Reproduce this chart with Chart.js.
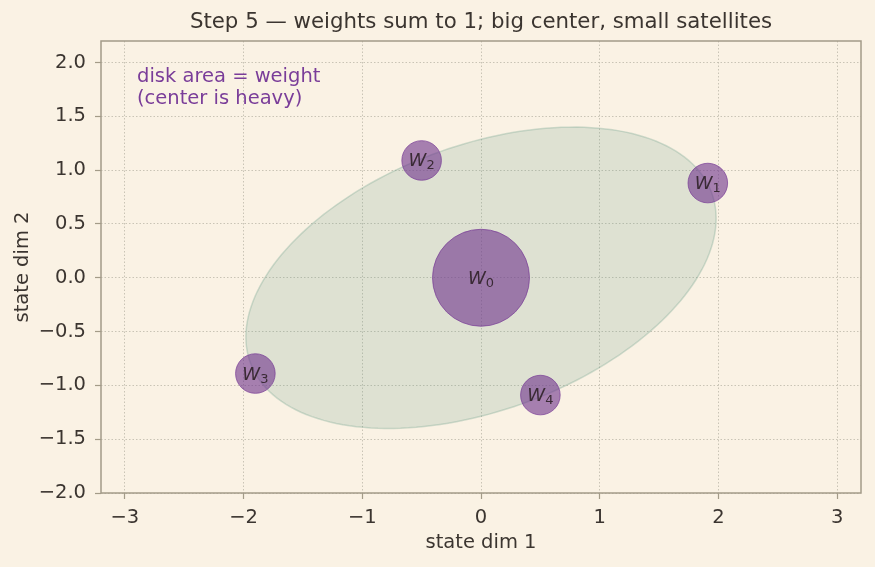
<!DOCTYPE html>
<html>
<head>
<meta charset="utf-8">
<script src="https://cdn.jsdelivr.net/npm/chart.js@4.4.1/dist/chart.umd.min.js"></script>
<style>
  html, body { margin: 0; padding: 0; background: #faf2e4; }
  canvas { display: block; }
</style>
</head>
<body>
<canvas id="myChart" width="875" height="567"></canvas>
<script>
// datos
const labels = ['0', '1', '2', '3', '4'];
const xs = [0.0, 1.91, -0.50, -1.90, 0.50];
const ys = [0.0, 0.88, 1.09, -0.89, -1.09];
const weights = [0.6, 0.1, 0.1, 0.1, 0.1];
const xTicks = [-3, -2, -1, 0, 1, 2, 3];
const yTicks = [-2.0, -1.5, -1.0, -0.5, 0.0, 0.5, 1.0, 1.5, 2.0];
// covarianza de la elipse (centro en 0,0)
const ellCenter = [0.0, 0.0];
const ellCov = [[3.92, 1.09], [1.09, 1.96]];

const bg = '#faf2e4';
const ink = '#3b3530';
const frame = '#a39b88';
const gridCol = '#bdb7a8';
const fontFam = '"DejaVu Sans", sans-serif';
const rScale = 62.6; // px por sqrt(peso)

const points = xs.map((x, i) => ({ x: x, y: ys[i], r: rScale * Math.sqrt(weights[i]) }));

const bgPlugin = {
  id: 'bg',
  beforeDraw(chart) {
    const c = chart.ctx;
    c.save();
    c.fillStyle = bg;
    c.fillRect(0, 0, chart.width, chart.height);
    c.restore();
  }
};

const ellipsePlugin = {
  id: 'ellipse',
  beforeDatasetsDraw(chart) {
    const c = chart.ctx;
    const sx = chart.scales.x, sy = chart.scales.y;
    const l11 = Math.sqrt(ellCov[0][0]);
    const l21 = ellCov[1][0] / l11;
    const l22 = Math.sqrt(ellCov[1][1] - l21 * l21);
    c.save();
    c.beginPath();
    for (let k = 0; k <= 180; k++) {
      const t = k / 180 * Math.PI * 2;
      const px = sx.getPixelForValue(ellCenter[0] + l11 * Math.cos(t));
      const py = sy.getPixelForValue(ellCenter[1] + l21 * Math.cos(t) + l22 * Math.sin(t));
      if (k === 0) c.moveTo(px, py); else c.lineTo(px, py);
    }
    c.closePath();
    c.fillStyle = 'rgba(110,160,140,0.2)';
    c.fill();
    c.strokeStyle = 'rgba(110,160,140,0.3)';
    c.lineWidth = 1.5;
    c.stroke();
    c.restore();
  }
};

const textPlugin = {
  id: 'texts',
  afterDraw(chart) {
    const c = chart.ctx;
    const a = chart.chartArea;
    const sx = chart.scales.x, sy = chart.scales.y;
    c.save();
    // marco
    c.strokeStyle = frame;
    c.lineWidth = 1.5;
    c.strokeRect(a.left, a.top, a.right - a.left, a.bottom - a.top);
    // titulo
    c.fillStyle = ink;
    c.font = '21.3px ' + fontFam;
    c.textAlign = 'center';
    c.textBaseline = 'middle';
    c.fillText('Step 5 \u2014 weights sum to 1; big center, small satellites', (a.left + a.right) / 2, 22);
    // nota
    c.fillStyle = '#7a3d99';
    c.font = '19.5px ' + fontFam;
    c.textAlign = 'left';
    c.fillText('disk area = weight', 137, 77);
    c.fillText('(center is heavy)', 137, 99);
    // etiquetas W_i
    c.fillStyle = '#3a2a35';
    labels.forEach((lab, i) => {
      const px = sx.getPixelForValue(xs[i]);
      const py = sy.getPixelForValue(ys[i]);
      c.font = 'italic 18px ' + fontFam;
      const w1 = c.measureText('W').width;
      c.font = '13px ' + fontFam;
      const w2 = c.measureText(lab).width;
      const x0 = px - (w1 + w2) / 2;
      c.textAlign = 'left';
      c.textBaseline = 'alphabetic';
      c.font = 'italic 18px ' + fontFam;
      c.fillText('W', x0, py + 6);
      c.font = '13px ' + fontFam;
      c.fillText(lab, x0 + w1, py + 9);
    });
    c.restore();
  }
};

const ctx = document.getElementById('myChart');

new Chart(ctx, {
  type: 'bubble',
  data: {
    datasets: [{
      data: points,
      backgroundColor: 'rgba(110,50,140,0.6)',
      borderColor: 'rgba(120,60,150,0.7)',
      borderWidth: 1
    }]
  },
  plugins: [bgPlugin, ellipsePlugin, textPlugin],
  options: {
    responsive: false,
    animation: false,
    events: [],
    layout: { autoPadding: false, padding: { top: 41, left: 0, right: 14, bottom: 0 } },
    plugins: { legend: { display: false }, tooltip: { enabled: false } },
    scales: {
      x: {
        type: 'linear',
        min: -3.2,
        max: 3.2,
        afterFit(s) { s.height = 74; s.paddingLeft = 0; s.paddingRight = 0; },
        afterBuildTicks(s) { s.ticks = xTicks.map(v => ({ value: v })); },
        ticks: { color: ink, font: { family: fontFam, size: 19.5 }, padding: 7,
          callback: v => String(v).replace('-', '\u2212') },
        grid: { color: gridCol, lineWidth: 0.8, tickColor: frame, tickLength: 6, tickWidth: 1.2 },
        border: { display: false, dash: [1.5, 2] },
        title: { display: true, text: 'state dim 1', color: ink, font: { family: fontFam, size: 19.5 }, padding: { top: 0, bottom: 12 } }
      },
      y: {
        type: 'linear',
        min: -2.0,
        max: 2.2,
        afterFit(s) { s.width = 101; s.paddingTop = 0; s.paddingBottom = 0; },
        afterBuildTicks(s) { s.ticks = yTicks.map(v => ({ value: v })); },
        ticks: { color: ink, font: { family: fontFam, size: 19.5 }, padding: 9,
          callback: v => v.toFixed(1).replace('-', '\u2212') },
        grid: { color: gridCol, lineWidth: 0.8, tickColor: frame, tickLength: 6, tickWidth: 1.2 },
        border: { display: false, dash: [1.5, 2] },
        title: { display: true, text: 'state dim 2', color: ink, font: { family: fontFam, size: 19.5 }, padding: { top: 11, bottom: 0 } }
      }
    }
  }
});
</script>
</body>
</html>
